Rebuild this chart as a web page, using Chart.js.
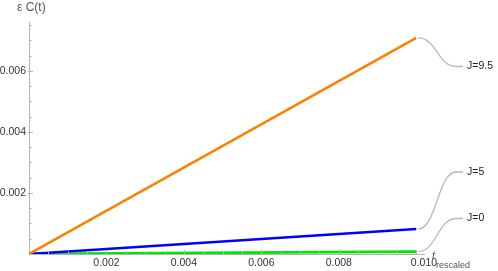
<!DOCTYPE html>
<html>
<head>
<meta charset="utf-8">
<script src="https://cdn.jsdelivr.net/npm/chart.js@4/dist/chart.umd.min.js"></script>
<style>
  html, body { margin: 0; padding: 0; background: #fff; }
  #wrap { width: 498px; height: 271px; position: relative; }
</style>
</head>
<body>
<div id="wrap"><canvas id="c" width="498" height="271"></canvas></div>
<script>
// ---- data ----
const tValues = [0, 0.010];
const seriesJ95 = [0, 0.00708];
const seriesJ5 = [0, 0.00082];
const seriesJ0 = [0, 0.00008];
const seriesLabels = ['J=9.5', 'J=5', 'J=0'];
const xTickLabels = ['0.002', '0.004', '0.006', '0.008', '0.010'];
const yTickLabels = ['0.002', '0.004', '0.006'];
const yAxisTitle = 'ε C(t)';
const xAxisTitleMain = 't';
const xAxisTitleSub = 'rescaled';

const FONT = '"Liberation Sans", Arial, sans-serif';
const AXIS = '#b3b3b3';

function pts(ys) { return tValues.map((t, i) => ({ x: t, y: ys[i] })); }

const decor = {
  id: 'decor',
  afterDatasetsDraw(chart) {
    const ctx = chart.ctx;
    const xs = chart.scales.x, ys = chart.scales.y;
    const x0 = xs.getPixelForValue(0), y0 = ys.getPixelForValue(0);
    ctx.save();
    // minor/major ticks (inward)
    ctx.strokeStyle = AXIS;
    ctx.lineWidth = 1;
    for (let k = 1; k * 0.0005 <= xs.max + 1e-12; k++) {
      const px = Math.round(xs.getPixelForValue(k * 0.0005)) + 0.5;
      const major = k % 4 === 0;
      ctx.beginPath();
      ctx.moveTo(px, y0 + (major ? 1 : 0));
      ctx.lineTo(px, y0 - (major ? 4 : 2.5));
      ctx.stroke();
    }
    for (let k = 1; k * 0.0005 <= ys.max + 1e-12; k++) {
      const py = Math.round(ys.getPixelForValue(k * 0.0005)) + 0.5;
      const major = k % 4 === 0;
      ctx.beginPath();
      ctx.moveTo(x0 - (major ? 1 : 0), py);
      ctx.lineTo(x0 + (major ? 4 : 2.5), py);
      ctx.stroke();
    }
    // axis titles
    ctx.fillStyle = '#555';
    ctx.font = '12px ' + FONT;
    ctx.textBaseline = 'middle';
    ctx.textAlign = 'left';
    ctx.fillText(yAxisTitle, 17, 8);
    ctx.font = 'italic 11px ' + FONT;
    ctx.fillText(xAxisTitleMain, 432, 256);
    ctx.font = '9px ' + FONT;
    ctx.fillText(xAxisTitleSub, 436, 265.5);

    // callouts
    const ends = [seriesJ95, seriesJ5, seriesJ0];
    const labelY = [66.5, 172, 218.5];
    const tEnd = tValues[tValues.length - 1];
    ctx.strokeStyle = '#b8b8b8';
    ctx.lineWidth = 1.3;
    ctx.font = '10.5px ' + FONT;
    ctx.fillStyle = '#222';
    ends.forEach((s, i) => {
      const sx = xs.getPixelForValue(tEnd) + 2;
      const sy = ys.getPixelForValue(s[s.length - 1]);
      const ex = 456, ey = labelY[i];
      ctx.beginPath();
      ctx.moveTo(sx, sy);
      ctx.bezierCurveTo(sx + 18, sy, ex - 18, ey, ex, ey);
      ctx.lineTo(463, ey);
      ctx.stroke();
      ctx.fillText(seriesLabels[i], 467, ey);
    });
    ctx.restore();
  }
};

new Chart(document.getElementById('c'), {
  type: 'line',
  data: {
    datasets: [
      { label: seriesLabels[0], data: pts(seriesJ95), borderColor: 'rgb(255,128,0)', borderWidth: 2.5 },
      { label: seriesLabels[1], data: pts(seriesJ5), borderColor: 'rgb(0,0,255)', borderWidth: 2.5 },
      { label: seriesLabels[2], data: pts(seriesJ0), borderColor: 'rgb(0,230,0)', borderWidth: 2.8 }
    ]
  },
  options: {
    responsive: false,
    animation: false,
    devicePixelRatio: 1,
    layout: { padding: { left: 0, top: 22, right: 74, bottom: 0 } },
    elements: { point: { radius: 0 }, line: { tension: 0, borderCapStyle: 'butt' } },
    plugins: { legend: { display: false }, tooltip: { enabled: false } },
    scales: {
      x: {
        type: 'linear', min: 0, max: 0.0102,
        grid: { display: false, drawTicks: false },
        border: { display: true, color: AXIS, width: 1 },
        afterFit: (s) => { s.height = 17; },
        ticks: {
          stepSize: 0.002, autoSkip: false, maxRotation: 0, padding: 3,
          color: '#333', font: { family: FONT, size: 10.5 },
          callback: (v) => {
            const s = v.toFixed(3);
            return xTickLabels.includes(s) ? s : '';
          }
        }
      },
      y: {
        type: 'linear', min: 0, max: 0.0076,
        grid: { display: false, drawTicks: false },
        border: { display: true, color: AXIS, width: 1 },
        afterFit: (s) => { s.width = 29; },
        ticks: {
          stepSize: 0.002, autoSkip: false, padding: 3,
          color: '#333', font: { family: FONT, size: 10.5 },
          callback: (v) => {
            const s = v.toFixed(3);
            return yTickLabels.includes(s) ? s : '';
          }
        }
      }
    }
  },
  plugins: [decor]
});
</script>
</body>
</html>
